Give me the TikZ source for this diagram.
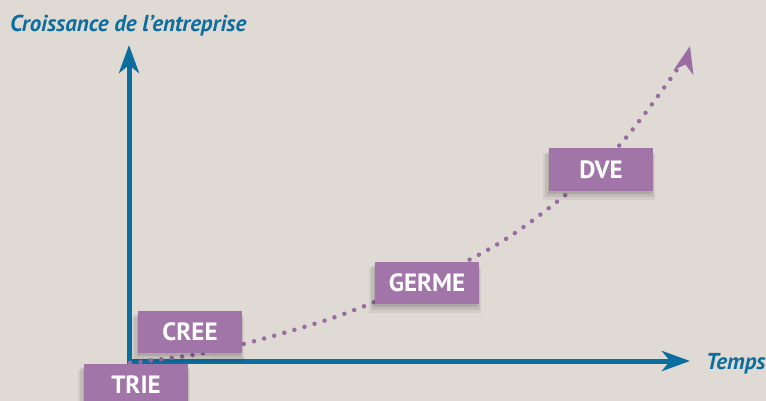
\documentclass[tikz,border=0pt]{standalone}
\usepackage{fontspec}
\setmainfont{PT Sans}
\usetikzlibrary{arrows.meta,shadows}
\definecolor{bgcol}{HTML}{E0DAD4}
\definecolor{axisblue}{HTML}{0B6E9E}
\definecolor{stagepurple}{HTML}{A175A8}
\definecolor{dotpurple}{HTML}{9B6BA4}
\begin{document}
\begin{tikzpicture}[x=1pt,y=-1pt,
stagebox/.style={rectangle, fill=stagepurple, text=white, minimum width=104pt, minimum height=42pt, inner sep=0pt,
  font=\fontsize{25}{27}\selectfont\bfseries,
  drop shadow={shadow xshift=-1pt, shadow yshift=-3pt, opacity=.10, fill=black},
  drop shadow={shadow xshift=-1.5pt, shadow yshift=-5pt, shadow scale=1.04, opacity=.08, fill=black},
  drop shadow={shadow xshift=-2pt, shadow yshift=-7pt, shadow scale=1.08, opacity=.06, fill=black}},
axislabel/.style={text=axisblue, inner sep=0pt, font=\fontsize{23}{26}\selectfont\bfseries\itshape},
axisline/.style={draw=axisblue, line width=5pt, -{Stealth[length=28pt, width=20pt, inset=8pt]}},
]
\fill[bgcol] (0,0) rectangle (766,401);
\useasboundingbox (0,0) rectangle (766,401);
%Nodes
\coordinate (origin) at (129,361);
\coordinate (ytop)   at (129,45);
\coordinate (xend)   at (690,361);
\node[axislabel, anchor=base west] (title) at (10,32) {Croissance de l’entreprise};
\node[axislabel, anchor=base west] (temps) at (706,369) {Temps};

%Lines
\draw[axisline] ([yshift=2.5pt]origin) -- (ytop);
\draw[axisline] ([xshift=-2.5pt]origin) -- (xend);
\draw[dotpurple, line width=4.5pt, line cap=round, dash pattern=on 0pt off 10.5pt,
  -{Stealth[length=27pt, width=20pt, inset=8pt, sep=0pt]}]
  plot[smooth, tension=0.6] coordinates {(130,362.7) (204,353) (287,332) (367,305) (484,252) (563,197) (618,147) (676,71) (690,46)};

%Stages
\node[stagebox] (trie)  at (136,385) {TRIE};
\node[stagebox] (cree)  at (190,332) {CREE};
\node[stagebox] (germe) at (427,283) {GERME};
\node[stagebox] (dve)   at (601,169.5) {DVE};
\end{tikzpicture}
\end{document}
